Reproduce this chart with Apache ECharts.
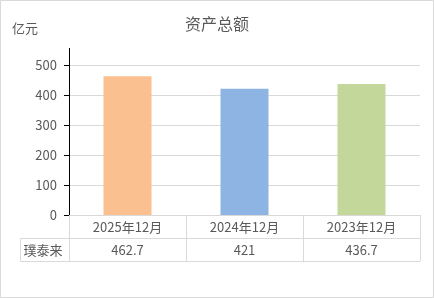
<!DOCTYPE html>
<html>
<head>
<meta charset="utf-8">
<script src="https://cdn.jsdelivr.net/npm/echarts@6/dist/echarts.min.js"></script>
<style>html,body{margin:0;padding:0;background:#fff;}#c{width:434px;height:298px;}</style>
</head>
<body>
<div id="c"></div>
<script>
var titleText = '资产总额';
var unitText = '亿元';
var seriesName = '璞泰来';
var categories = ['2025年12月', '2024年12月', '2023年12月'];
var values = [462.7, 421, 436.7];
var barColors = ['#FAC090', '#8EB4E3', '#C4D79B'];
var yTicks = [0, 100, 200, 300, 400, 500];

var FONT = '"Microsoft YaHei","Noto Sans CJK SC",sans-serif';
var TXT = '#595959';
var LINE = '#d9d9d9';

var chart = echarts.init(document.getElementById('c'), null, {renderer: 'canvas'});
chart.setOption({
  animation: false,
  backgroundColor: '#fff',
  textStyle: {fontFamily: FONT},
  title: {
    text: titleText, left: 'center', top: 11,
    textStyle: {fontSize: 16, fontWeight: 'normal', color: TXT, fontFamily: FONT}
  },
  grid: {left: 69, right: 14, top: 65, bottom: 83, containLabel: false},
  xAxis: [
    {
      type: 'category', data: categories, position: 'bottom',
      axisLine: {show: true, lineStyle: {color: LINE, width: 1}},
      axisTick: {show: true, alignWithLabel: false, interval: 0, length: 46, lineStyle: {color: LINE}},
      axisLabel: {interval: 0, margin: 6, fontSize: 13, color: TXT, fontFamily: FONT},
      splitLine: {show: false}
    },
    {
      type: 'category', data: categories, position: 'bottom', offset: 23,
      axisLine: {show: true, lineStyle: {color: LINE, width: 1}},
      axisTick: {show: false},
      axisLabel: {interval: 0, margin: 6, fontSize: 13, color: TXT, fontFamily: FONT,
        formatter: function (v, i) { return String(values[i]); }},
      splitLine: {show: false}
    },
    {
      type: 'category', data: categories, position: 'bottom', offset: 46,
      axisLine: {show: true, lineStyle: {color: LINE, width: 1}},
      axisTick: {show: false},
      axisLabel: {show: false},
      splitLine: {show: false}
    }
  ],
  yAxis: {
    type: 'value', min: yTicks[0], max: yTicks[yTicks.length - 1], interval: yTicks[1] - yTicks[0],
    axisLine: {show: true, lineStyle: {color: '#000', width: 1}},
    axisTick: {show: true, length: 5, lineStyle: {color: '#000'}},
    axisLabel: {margin: 12, fontSize: 13, color: TXT, fontFamily: FONT},
    splitLine: {show: true, lineStyle: {color: LINE, width: 1}}
  },
  series: [{
    name: seriesName,
    type: 'bar',
    xAxisIndex: 0,
    barWidth: 48,
    data: values.map(function (v, i) { return {value: v, itemStyle: {color: barColors[i]}}; })
  }],
  graphic: [
    {type: 'rect', shape: {x: 0.5, y: 0.5, width: 433, height: 297}, style: {fill: 'none', stroke: LINE, lineWidth: 1}, silent: true, z: -1},
    {type: 'line', shape: {x1: 69.5, y1: 48, x2: 69.5, y2: 65}, style: {stroke: '#000', lineWidth: 1}, z: 10},
    {type: 'line', shape: {x1: 20.5, y1: 238.5, x2: 69.5, y2: 238.5}, style: {stroke: LINE, lineWidth: 1}},
    {type: 'line', shape: {x1: 20.5, y1: 261.5, x2: 69.5, y2: 261.5}, style: {stroke: LINE, lineWidth: 1}},
    {type: 'line', shape: {x1: 20.5, y1: 238.5, x2: 20.5, y2: 261.5}, style: {stroke: LINE, lineWidth: 1}},
    {type: 'text', x: 43, y: 250, style: {text: seriesName, fill: TXT, font: '13px ' + FONT, textAlign: 'center', textVerticalAlign: 'middle'}},
    {type: 'text', x: 12, y: 28, style: {text: unitText, fill: TXT, font: '13px ' + FONT, textAlign: 'left', textVerticalAlign: 'middle'}}
  ]
});
</script>
</body>
</html>
